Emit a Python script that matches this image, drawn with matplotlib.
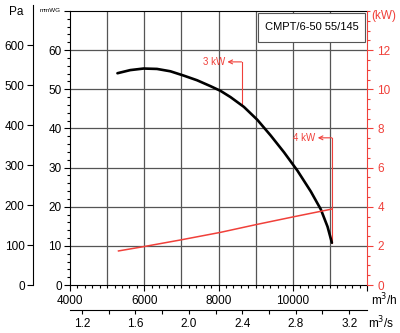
import matplotlib.pyplot as plt
from matplotlib.ticker import MultipleLocator
from matplotlib.patches import Rectangle

plt.rcParams['font.family'] = ['Liberation Sans', 'DejaVu Sans']

# pressure curve (m3/h, mmWG)
q_p = [5278, 5622, 5981, 6343, 6703, 7062, 7424, 7784, 8054, 8324, 8684,
       9046, 9405, 9765, 10127, 10486, 10757, 10937, 11054]
p_mm = [54.1, 54.9, 55.3, 55.2, 54.6, 53.5, 52.3, 50.8, 49.6, 48.0, 45.5,
        42.2, 38.2, 33.9, 29.2, 23.9, 19.3, 14.9, 10.8]

# power curve (m3/h, kW)
q_w = [5306, 5981, 6973, 8054, 9046, 10035, 11054]
p_kw = [1.74, 1.96, 2.30, 2.69, 3.10, 3.49, 3.88]

# power marks on the curve
marks_q = [8620, 11054]
marks_y = [45.9, 10.8]
marks_top = [57.0, 37.6]
marks_txt = ['3 kW', '4 kW']

red = '#f0403a'
grid = '#555555'

fig = plt.figure(figsize=(4, 3.33), dpi=100)
ax = fig.add_axes([70/400, 48/333, 297/400, 274/333])

ax.plot(q_p, p_mm, color='black', lw=1.9, solid_capstyle='round',
        solid_joinstyle='round', zorder=3)
ax.set_xlim(4000, 12000)
ax.set_ylim(0, 70)
ax.xaxis.set_minor_locator(MultipleLocator(200))
ax.yaxis.set_minor_locator(MultipleLocator(2))
ax.set_xticks([4000, 6000, 8000, 10000, 12000])
ax.set_xticklabels(['4000', '6000', '8000', '10000', ''])
ax.set_yticks(range(0, 80, 10))
ax.set_yticklabels(['0', '10', '20', '30', '40', '50', '60', ''])
for v in range(5000, 12000, 1000):
    ax.axvline(v, color=grid, lw=0.9, zorder=0)
for v in range(10, 70, 10):
    ax.axhline(v, color=grid, lw=0.9, zorder=0)
ax.tick_params(axis='both', which='major', length=4, labelsize=8.5, width=0.8)
ax.tick_params(axis='both', which='minor', length=2.5, width=0.8)
ax.tick_params(axis='y', pad=2)
ax.tick_params(axis='x', pad=3)
ax.spines['right'].set_visible(False)

# power axis
axk = ax.twinx()
axk.plot(q_w, p_kw, color=red, lw=1.1)
axk.set_ylim(0, 14)
axk.yaxis.set_minor_locator(MultipleLocator(0.5))
axk.set_yticks([0, 2, 4, 6, 8, 10, 12])
axk.tick_params(axis='y', which='major', length=4, colors=red, labelsize=8.5, width=0.8)
axk.tick_params(axis='y', which='minor', length=2.5, colors=red, width=0.8)
axk.spines['right'].set_color(red)
for s in ['left', 'top', 'bottom']:
    axk.spines[s].set_visible(False)
fig.text(384/400, 1 - 16/333, '(kW)', color=red, fontsize=8.5, ha='center', va='center')

# power marks
for q, y, t, s in zip(marks_q, marks_y, marks_top, marks_txt):
    ax.plot([q, q], [y, t], color=red, lw=0.8, zorder=2)
    ax.annotate('', xy=(q - 380, t), xytext=(q, t),
                arrowprops=dict(arrowstyle='->', color=red, lw=0.8,
                                shrinkA=0, shrinkB=0, mutation_scale=7))
    ax.text(q - 450, t, s, color=red, fontsize=7, ha='right', va='center')

# label box
fig.patches.append(Rectangle((258/400, 1 - 42/333), 107/400, 29/333,
                             transform=fig.transFigure, fc='white', ec=grid, lw=0.8))
fig.text(311.5/400, 1 - 27.5/333, 'CMPT/6-50 55/145', fontsize=8, ha='center', va='center')

# Pa axis
axp = fig.add_axes([33/400, 48/333, 0.001, 280/333])
axp.set_ylim(0, 700)
axp.set_xticks([])
axp.set_yticks(range(0, 700, 100))
axp.tick_params(axis='y', length=4, labelsize=8.5, width=0.8, pad=2)
for s in ['right', 'top', 'bottom']:
    axp.spines[s].set_visible(False)
axp.patch.set_visible(False)
fig.text(16/400, 1 - 12/333, 'Pa', fontsize=8.5, ha='center', va='center')
fig.text(50/400, 1 - 10/333, 'mmWG', fontsize=4.5, ha='center', va='center')

# m3/s axis
sec = ax.secondary_xaxis(-0.091, functions=(lambda x: x / 3600, lambda x: x * 3600))
sec.xaxis.set_minor_locator(MultipleLocator(0.2))
sec.set_xticks([1.2, 1.6, 2.0, 2.4, 2.8, 3.2])
sec.set_xticklabels(['1.2', '1.6', '2.0', '2.4', '2.8', '3.2'])
sec.tick_params(which='major', length=3, labelsize=8.5, width=0.8, pad=3)
sec.tick_params(which='minor', length=3, width=0.8)
fig.text(384/400, 1 - 300/333, 'm$^3$/h', fontsize=8.5, ha='center', va='center')
fig.text(381/400, 1 - 323/333, 'm$^3$/s', fontsize=8.5, ha='center', va='center')

fig.savefig('out.png', dpi=100)
